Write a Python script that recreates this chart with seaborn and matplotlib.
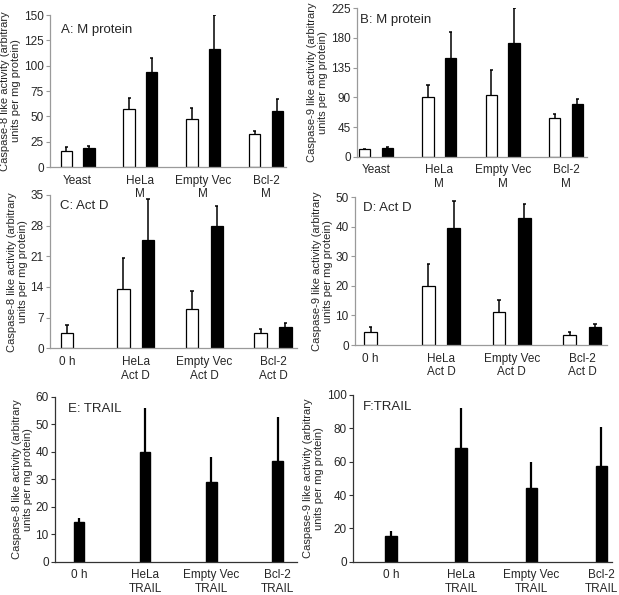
import numpy as np
import pandas as pd
import seaborn as sns
from matplotlib import pyplot as plt

sns.set_style("white")
plt.rcParams['font.family'] = ['Liberation Sans', 'DejaVu Sans']

# Panel A/B: M protein
m_groups = ["Yeast", "HeLa\nM", "Empty Vec\nM", "Bcl-2\nM"]
a_white = [15.5, 57.5, 47.5, 33]
a_white_err = [19.8, 68.5, 58.5, 36]
a_black = [18.5, 94, 116, 55]
a_black_err = [20.5, 108, 150, 67.5]

b_white = [11, 91, 94, 58.5]
b_white_err = [11, 108.5, 132, 64]
b_black = [12.5, 150, 172, 80]
b_black_err = [14.5, 189.5, 226, 87.5]

# Panel C/D: Act D (0 h has only the open bar)
d_groups = ["0 h", "HeLa\nAct D", "Empty Vec\nAct D", "Bcl-2\nAct D"]
c_white = [3.6, 13.5, 9.0, 3.6]
c_white_err = [5.4, 20.7, 13.0, 4.4]
c_black = [np.nan, 24.7, 28.0, 4.8]
c_black_err = [np.nan, 34.0, 32.5, 5.8]

d_white = [4.4, 20.1, 11.2, 3.4]
d_white_err = [6.2, 27.3, 15.1, 4.3]
d_black = [np.nan, 39.5, 43.0, 6.1]
d_black_err = [np.nan, 48.7, 47.6, 7.1]

# Panel E/F: TRAIL
t_groups = ["0 h", "HeLa\nTRAIL", "Empty Vec\nTRAIL", "Bcl-2\nTRAIL"]
e_vals = [14.5, 39.8, 29.0, 36.5]
e_err = [16.0, 56.0, 38.0, 52.5]
f_vals = [15.5, 68.0, 44.0, 57.5]
f_err = [18.5, 92.5, 60.0, 81.0]

lab8 = "Caspase-8 like activity (arbitrary\nunits per mg protein)"
lab9 = "Caspase-9 like activity (arbitrary\nunits per mg protein)"

fig = plt.figure(figsize=(6.19, 5.95), dpi=100)
W, H = 619, 595


def make_ax(x0, x1, ytop, ybot):
    ax = fig.add_axes([x0 / W, 1 - ybot / H, (x1 - x0) / W, (ybot - ytop) / H])
    ax.patch.set_alpha(0)
    return ax


def style(ax, title, tpos, ylabel, ymax, step, xlim, spine_col):
    ax.set_ylim(0, ymax)
    ax.set_yticks(np.arange(0, ymax + 0.01, step))
    ax.set_xlim(*xlim)
    for s in ["top", "right"]:
        ax.spines[s].set_visible(False)
    for s in ["left", "bottom"]:
        ax.spines[s].set_color(spine_col)
        ax.spines[s].set_linewidth(0.9)
    ax.tick_params(axis="y", left=True, length=3, width=0.8, color=spine_col,
                   labelsize=8.5, pad=1.5)
    ax.tick_params(axis="x", bottom=False, labelsize=8.5, pad=2)
    ax.set_xlabel("")
    ax.set_ylabel(ylabel, fontsize=8, labelpad=2, linespacing=1.1)
    bb = ax.get_position()
    ax.text(tpos[0] / (bb.width * W), 1 - tpos[1] / (bb.height * H), title,
            transform=ax.transAxes, fontsize=9.5, va="top", ha="left")


def cap(ax, x, v, e):
    ax.vlines(x, v, e, color="black", lw=1.1)
    ax.hlines(e, x - 0.025, x + 0.025, color="black", lw=1.1)


def paired(ax, groups, white, white_err, black, black_err, single_first=False):
    rows = []
    for i, g in enumerate(groups):
        if single_first and i == 0:
            continue
        rows.append((g, "white", white[i], white_err[i]))
        rows.append((g, "black", black[i], black_err[i]))
    df = pd.DataFrame(rows, columns=["group", "series", "value", "err"])
    sns.barplot(data=df, x="group", y="value", hue="series", order=groups,
                hue_order=["white", "black"], palette={"white": "white", "black": "black"},
                edgecolor="black", linewidth=0.9, width=0.72, gap=0.5,
                errorbar=None, legend=False, ax=ax)
    off = 0.72 / 4
    for _, r in df.iterrows():
        x = groups.index(r["group"]) + (-off if r["series"] == "white" else off)
        cap(ax, x, r["value"], r["err"])
    if single_first:
        d0 = pd.DataFrame({"group": [groups[0]], "value": [white[0]]})
        sns.barplot(data=d0, x="group", y="value", order=groups, color="white",
                    edgecolor="black", linewidth=0.9, width=0.18, errorbar=None, ax=ax)
        cap(ax, 0, white[0], white_err[0])


def single(ax, groups, vals, err):
    df = pd.DataFrame({"group": groups, "value": vals, "err": err})
    sns.barplot(data=df, x="group", y="value", order=groups, color="black",
                edgecolor="black", width=0.16, errorbar=None, ax=ax)
    for i, (v, e) in enumerate(zip(vals, err)):
        ax.vlines(i, v, e, color="black", lw=1.6)


grey = "#9a9a9a"

ax = make_ax(50, 286, 15, 167)
paired(ax, m_groups, a_white, a_white_err, a_black, a_black_err)
style(ax, "A: M protein", (11, 9), lab8, 150, 25, (-0.44, 3.32), grey)

ax = make_ax(357, 587, 8.3, 156.7)
paired(ax, m_groups, b_white, b_white_err, b_black, b_black_err)
style(ax, "B: M protein", (3, 6), lab9, 225, 45, (-0.30, 3.33), grey)

ax = make_ax(50, 297, 195, 348.3)
paired(ax, d_groups, c_white, c_white_err, c_black, c_black_err, single_first=True)
style(ax, "C: Act D", (10, 5), lab8, 35, 7, (-0.25, 3.35), grey)

ax = make_ax(355, 607, 197.3, 345)
paired(ax, d_groups, d_white, d_white_err, d_black, d_black_err, single_first=True)
style(ax, "D: Act D", (8, 5), lab9, 50, 10, (-0.22, 3.35), grey)

ax = make_ax(55, 297, 396.5, 561.7)
single(ax, t_groups, e_vals, e_err)
style(ax, "E: TRAIL", (13, 6), lab8, 60, 10, (-0.36, 3.29), "#333333")

ax = make_ax(353, 612, 395, 561.7)
single(ax, t_groups, f_vals, f_err)
style(ax, "F:TRAIL", (10, 6), lab9, 100, 20, (-0.54, 3.15), "#333333")

fig.savefig("out.png", dpi=100)
